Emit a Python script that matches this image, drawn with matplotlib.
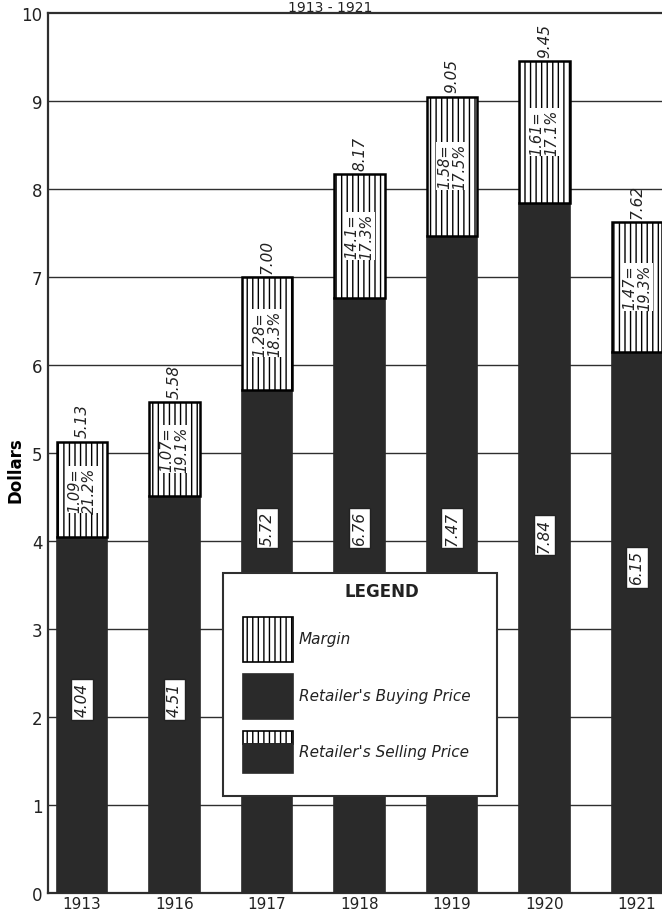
import matplotlib
matplotlib.use("Agg")
import matplotlib.pyplot as plt
from matplotlib.patches import Rectangle

years = ["1913", "1916", "1917", "1918", "1919", "1920", "1921"]
buying = [4.04, 4.51, 5.72, 6.76, 7.47, 7.84, 6.15]
selling = [5.13, 5.58, 7.00, 8.17, 9.05, 9.45, 7.62]
margin_labels = ["1.09=", "1.07=", "1.28=", "14.1=", "1.58=", "1.61=", "1.47="]
margin_pct = ["21.2%", "19.1%", "18.3%", "17.3%", "17.5%", "17.1%", "19.3%"]
total_labels = ["5.13", "5.58", "7.00", "8.17", "9.05", "9.45", "7.62"]
buy_labels = ["4.04", "4.51", "5.72", "6.76", "7.47", "7.84", "6.15"]
yticks = list(range(0, 11))

# layout-only: vertical placement of the buying-price labels (dollars)
buy_label_y = [2.2, 2.2, 4.15, 4.15, 4.15, 4.07, 3.7]

plt.rcParams['hatch.linewidth'] = 1.0
DARK = '#2a2a2a'
LINE = '#2f2f2f'
FONT = ['DejaVu Sans']

W, H = 662, 920
fig = plt.figure(figsize=(W / 100, H / 100), dpi=100)
ax = fig.add_axes([48 / W, 1 - 894 / H, 1 - 48 / W, (894 - 14) / H])

x = list(range(len(years)))
margins = [s - b for s, b in zip(selling, buying)]
bw = 0.55

for yv in range(1, 10):
    ax.axhline(yv, color=LINE, lw=1.0, zorder=1)

ax.bar(x, buying, width=bw, color=DARK, edgecolor=DARK, lw=1.2, zorder=3)
ax.bar(x, margins, bottom=buying, width=bw, facecolor='white', edgecolor='black',
       hatch='|||', lw=1.8, zorder=3)

for i in x:
    ax.annotate(total_labels[i], (i, selling[i]), xytext=(0, 3), textcoords='offset points',
                rotation=90, ha='center', va='bottom', fontsize=11, style='italic',
                family=FONT, color='#222', zorder=5)
    ax.text(i, (buying[i] + selling[i]) / 2, margin_labels[i] + "\n" + margin_pct[i],
            rotation=90, ha='center', va='center', fontsize=10.5, style='italic',
            family=FONT, color='#222', linespacing=1.0, zorder=5,
            bbox=dict(facecolor='white', edgecolor='none', pad=0.5))
    ax.text(i, buy_label_y[i], buy_labels[i], rotation=90, ha='center', va='center',
            fontsize=11, style='italic', family=FONT, color='#222', zorder=5,
            bbox=dict(facecolor='white', edgecolor='#222', lw=1.0, pad=2.2))

ax.set_xlim(-0.368, 6.27)
ax.set_ylim(0, 10)
ax.set_yticks(yticks)
ax.set_yticklabels([str(v) for v in yticks], fontsize=12, family=FONT, color='#222')
ax.set_xticks(x)
ax.set_xticklabels(years, fontsize=11, family=['Liberation Sans Narrow', 'DejaVu Sans'],
                   color='#222')
ax.tick_params(length=0, pad=4)
ax.tick_params(axis='x', pad=2)
for s in ['left', 'top', 'bottom']:
    ax.spines[s].set_color(LINE)
    ax.spines[s].set_linewidth(1.6)
ax.spines['right'].set_visible(False)

fig.text(15 / W, 1 - 470 / H, "Dollars", rotation=90, ha='center', va='center',
         fontsize=12, fontweight='bold', family=FONT)
fig.text(330 / W, 1 - 1 / H, "1913 - 1921", ha='center', va='top', fontsize=10,
         family=FONT, color='#222')

# Legend box (figure pixel coordinates)
def fx(px):
    return px / W

def fy(py):
    return 1 - py / H

tf = fig.transFigure
fig.add_artist(Rectangle((fx(223), fy(797)), fx(497) - fx(223), fy(574) - fy(797),
                         transform=tf, facecolor='white', edgecolor=LINE, lw=1.5, zorder=10))
fig.text(fx(382), fy(592), "LEGEND", ha='center', va='center', fontsize=12,
         fontweight='bold', family=FONT, color='#222', zorder=11)
sw_x0, sw_x1 = fx(243), fx(293)
fig.add_artist(Rectangle((sw_x0, fy(663)), sw_x1 - sw_x0, fy(618) - fy(663), transform=tf,
                         facecolor='white', edgecolor='black', hatch='|||', lw=1.2, zorder=11))
fig.add_artist(Rectangle((sw_x0, fy(720)), sw_x1 - sw_x0, fy(675) - fy(720), transform=tf,
                         facecolor=DARK, edgecolor=DARK, lw=1.2, zorder=11))
fig.add_artist(Rectangle((sw_x0, fy(745)), sw_x1 - sw_x0, fy(732) - fy(745), transform=tf,
                         facecolor='white', edgecolor='black', hatch='|||', lw=1.2, zorder=11))
fig.add_artist(Rectangle((sw_x0, fy(774)), sw_x1 - sw_x0, fy(745) - fy(774), transform=tf,
                         facecolor=DARK, edgecolor=DARK, lw=1.2, zorder=11))
for ty, txt in [(640, "Margin"), (697, "Retailer's Buying Price"),
                (753, "Retailer's Selling Price")]:
    fig.text(fx(299), fy(ty), txt, ha='left', va='center', fontsize=11, style='italic',
             family=FONT, color='#222', zorder=11)

fig.savefig("out.png", dpi=100)
